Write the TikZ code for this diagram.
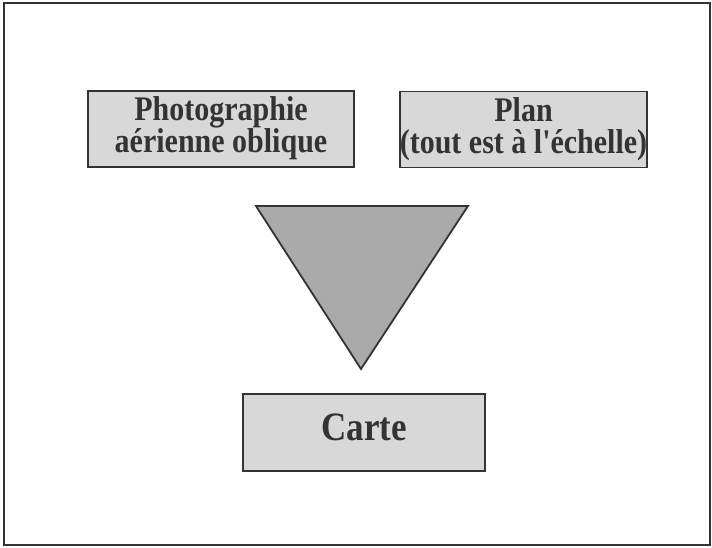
\documentclass[tikz,border=0pt]{standalone}
\usepackage{fontspec}
\setmainfont{Liberation Serif}
\definecolor{boxgray}{HTML}{D8D8D8}
\definecolor{trigray}{HTML}{AAAAAA}
\definecolor{inkgray}{HTML}{333333}
% slightly tall lettering, as in the original slide
\newcommand{\tallbox}[1]{\scalebox{1}[1.15]{\begin{tabular}{@{}c@{}}#1\end{tabular}}}
\begin{document}
\begin{tikzpicture}[x=1pt,y=-1pt,
    box/.style={draw=inkgray,line width=1.6pt,fill=boxgray,text=inkgray,
      align=center,minimum height=76pt,inner sep=0pt,
      font=\bfseries\fontsize{30}{24.5}\selectfont}]
      \useasboundingbox (0,0) rectangle (712,547);
      \draw[inkgray,line width=1.2pt] (4,3) rectangle (710,545);
      \draw
        (221,129) node[box,minimum width=266pt] (photo){\tallbox{Photographie\\aérienne oblique}}
        (523.5,129.5) node[box,minimum width=245pt] (plan){\tallbox{Plan\\(tout est à l\textquotesingle échelle)}}
        (364,432.5) node[box,minimum width=242pt,minimum height=77pt,
          font=\bfseries\fontsize{35}{35}\selectfont] (carte){\tallbox{Carte}};
      \coordinate (tl) at (256,206);
      \coordinate (tr) at (468,206);
      \coordinate (apex) at (361,369);
      \begin{scope}[draw=inkgray,line width=1.8pt,line join=miter]
        \draw[fill=trigray] (tl) -- (tr) -- (apex) -- cycle;
      \end{scope}
    \end{tikzpicture}
\end{document}
